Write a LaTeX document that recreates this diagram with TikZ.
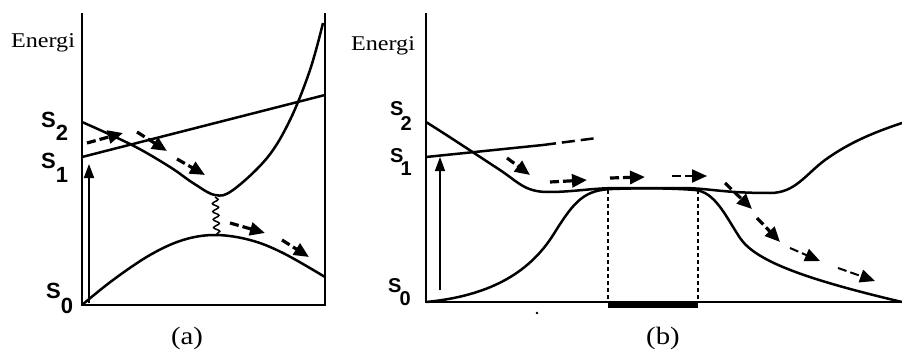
\documentclass[tikz,border=0pt]{standalone}
\usepackage{fontspec}
\setmainfont{Liberation Serif}
\newfontfamily\lblfont{Liberation Sans}
\newfontfamily\enfont[FakeStretch=1.15]{Liberation Serif}
\usetikzlibrary{arrows.meta,positioning,decorations.pathmorphing}
\tikzset{
  ax/.style={line width=2.8pt},
  crv/.style={line width=2.5pt},
  flow/.style={line width=3.2pt,dash pattern=on 9pt off 4pt,
               -{Triangle[length=15pt,width=13pt]}},
  flowthin/.style={flow,line width=2pt},
  up/.style={line width=1.8pt,-{Triangle[length=14pt,width=10pt]}},
  en/.style={font=\enfont\fontsize{21}{21}\selectfont,inner sep=0pt},
  st/.style={font=\lblfont\bfseries\fontsize{22}{22}\selectfont,
             anchor=base west,inner sep=0pt},
  stb/.style={st,font=\lblfont\bfseries\fontsize{20}{20}\selectfont},
  capt/.style={font=\enfont\fontsize{25}{25}\selectfont},
}
\begin{document}
\begin{tikzpicture}[x=1pt,y=-1pt]
  \useasboundingbox (0,0) rectangle (902,353);

  % (a)
  \draw[ax] (82,13) -- (82,305) -- (325,305) -- (325,13);
  \node[en] (ena) at (43,43) {Energi};
  \node[st] (s2a) at (41,127) {S\lower13pt\hbox{2}};
  \node[st] (s1a) at (41,168) {S\lower14pt\hbox{1}};
  \node[st] (s0a) at (46,298) {S\lower15pt\hbox{0}};
  \draw[crv] (82,157) -- (325,95);
  \draw[crv] plot[smooth,tension=0.6] coordinates
    {(82,122) (132,145) (170,167) (193,183) (215,195) (233,190)
     (267,158) (290,120) (310,70) (323,23)};
  \draw[crv] plot[smooth,tension=0.6] coordinates
    {(82,305) (113,280) (150,255) (183,240) (215,235) (250,240)
     (283,253) (325,277)};
  \draw[line width=1.5pt,decorate,
        decoration={snake,amplitude=3pt,segment length=8pt}]
    (215,197) -- (217,235);
  \draw[up] (89,303) -- (89,164);
  \foreach \a/\b in {{(87,143)/(123,133)},{(137,132)/(167,151)},
                     {(177,159)/(205,175)},{(230,223)/(265,233)},
                     {(282,240)/(309,257)}}
    \draw[flow] \a -- \b;
  \node[capt] (la) at (187,338) {(a)};

  % (b)
  \draw[ax] (426,13) -- (426,302) -- (902,302);
  \draw[line width=7pt] (608,304) -- (698,304);
  \fill (537,313) circle (1.3pt);
  \node[en] (enb) at (383,46) {Energi};
  \node[stb] (s2b) at (390,115) {S\kern-3pt\lower15pt\hbox{2}};
  \node[stb] (s1b) at (390,162) {S\kern-3pt\lower13pt\hbox{1}};
  \node[stb] (s0b) at (388,292) {S\kern-2pt\lower13pt\hbox{0}};
  \draw[crv] (426,157) -- (543,145);
  \draw[crv,dash pattern=on 13pt off 6pt] (543,145) -- (597,138);
  \draw[crv] (426,122) .. controls (450,137) and (480,157) .. (500,170)
    .. controls (518,182) and (525,192) .. (548,192)
    .. controls (575,192) and (590,188) .. (620,188) -- (680,188)
    .. controls (710,188) and (720,193) .. (770,193)
    .. controls (795,193) and (805,175) .. (825,160)
    .. controls (850,142) and (875,132) .. (902,123);
  \draw[crv] (426,302) .. controls (500,295) and (535,265) .. (555,232)
    .. controls (575,200) and (585,190) .. (612,189)
    .. controls (640,188) and (670,188) .. (695,190)
    .. controls (715,192) and (725,215) .. (740,238)
    .. controls (755,260) and (800,278) .. (902,302);
  \draw[line width=1.5pt,dash pattern=on 4pt off 3pt] (608,190) -- (608,302);
  \draw[line width=1.5pt,dash pattern=on 4pt off 3pt] (698,190) -- (698,302);
  \draw[up,line width=1.5pt] (440,290) -- (440,157);
  \foreach \a/\b in {{(507,158)/(530,175)},{(550,182)/(587,180)},
                     {(610,178)/(645,177)},{(725,183)/(752,209)},
                     {(757,218)/(780,242)}}
    \draw[flow] \a -- \b;
  \foreach \a/\b in {{(672,176)/(707,176)},{(790,248)/(820,261)},
                     {(838,268)/(875,281)}}
    \draw[flowthin] \a -- \b;
  \node[capt] (lb) at (663,338) {(b)};
\end{tikzpicture}
\end{document}
